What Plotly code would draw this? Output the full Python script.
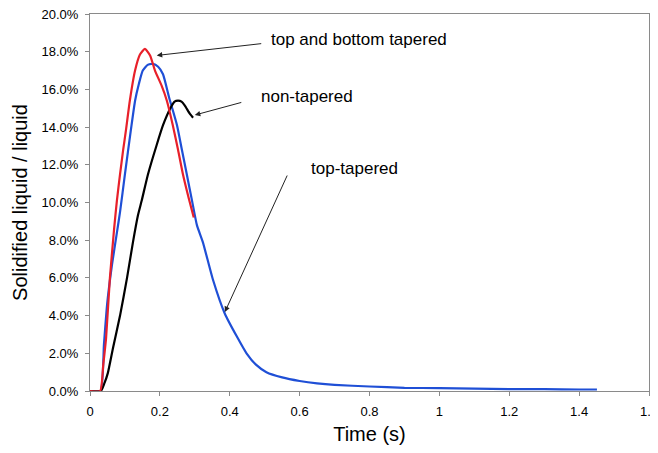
import plotly.graph_objects as go

# Data (time in s, solidified liquid / liquid in %)
red_x = [0, 0.029, 0.038, 0.046, 0.057, 0.069, 0.077, 0.086, 0.095, 0.103, 0.114, 0.129,
         0.143, 0.157, 0.172, 0.186, 0.205, 0.22, 0.237, 0.252, 0.266, 0.283, 0.297]
red_y = [0, 0, 1.4, 2.8, 6.0, 8.6, 10.1, 11.5, 12.8, 13.85, 15.4, 17.0,
         17.85, 18.15, 17.8, 17.0, 16.2, 15.4, 14.1, 12.8, 11.5, 10.2, 9.2]

blue_x = [0, 0.03, 0.04, 0.049, 0.063, 0.077, 0.086, 0.1, 0.117, 0.129, 0.14, 0.151, 0.165,
          0.18, 0.195, 0.209, 0.226, 0.249, 0.263, 0.277, 0.292, 0.306, 0.323, 0.352,
          0.386, 0.42, 0.448, 0.475, 0.505, 0.55, 0.6, 0.65, 0.7, 0.8, 0.9, 1.0, 1.1,
          1.2, 1.3, 1.4, 1.451]
blue_y = [0, 0, 2.5, 4.6, 6.7, 8.4, 9.5, 11.5, 13.85, 15.4, 16.3, 17.0, 17.3,
          17.35, 17.2, 16.8, 15.6, 14.1, 12.8, 11.5, 10.1, 8.8, 7.9, 5.9,
          4.1, 2.9, 2.0, 1.4, 1.0, 0.72, 0.53, 0.4, 0.32, 0.24, 0.17, 0.15, 0.13,
          0.1, 0.1, 0.08, 0.08]

black_x = [0, 0.031, 0.041, 0.051, 0.066, 0.086, 0.106, 0.123, 0.137, 0.148, 0.166, 0.19,
           0.209, 0.23, 0.242, 0.252, 0.262, 0.271, 0.286, 0.295]
black_y = [0, 0, 0.4, 0.95, 2.3, 4.0, 6.0, 7.9, 9.3, 10.1, 11.5, 13.0,
           14.1, 15.0, 15.35, 15.4, 15.35, 15.15, 14.7, 14.5]

x_ticks = [0, 0.2, 0.4, 0.6, 0.8, 1.0, 1.2, 1.4, 1.6]
y_ticks = [0, 2, 4, 6, 8, 10, 12, 14, 16, 18, 20]

labels = ["top and bottom tapered", "non-tapered", "top-tapered"]

FONT = "Liberation Sans, Arial, sans-serif"

fig = go.Figure()
line_common = dict(width=2.2, shape="spline", smoothing=0.5)
fig.add_trace(go.Scatter(x=blue_x, y=blue_y, mode="lines",
                         line=dict(color="#1f4fd6", **line_common), name=labels[2]))
fig.add_trace(go.Scatter(x=black_x, y=black_y, mode="lines",
                         line=dict(color="#000000", **line_common), name=labels[1]))
fig.add_trace(go.Scatter(x=red_x, y=red_y, mode="lines",
                         line=dict(color="#e8202a", **line_common), name=labels[0]))

ann_font = dict(family=FONT, size=17, color="#000")
text_pos = [(0.771, 18.65), (0.62, 15.6), (0.756, 11.8)]
for (tx, ty), lab in zip(text_pos, labels):
    fig.add_annotation(x=tx, y=ty, xref="x", yref="y", text=lab, showarrow=False,
                       font=ann_font, xanchor="center", yanchor="middle")

# arrows (head at data point, tail offset in pixels)
arrows = [(0.191, 17.8, 106, -12), (0.3, 14.64, 48, -13), (0.386, 4.19, 63, -138)]
for hx, hy, ax, ay in arrows:
    fig.add_annotation(x=hx, y=hy, xref="x", yref="y", text="", showarrow=True,
                       ax=ax, ay=ay, arrowhead=2, arrowsize=1.1, arrowwidth=1,
                       arrowcolor="#222")

# the page body adds an 8px offset, so the figure is sized to fit the window
fig.update_layout(
    width=650, height=445,
    margin=dict(l=82, r=9, t=6, b=62),
    paper_bgcolor="white", plot_bgcolor="white",
    showlegend=False,
    font=dict(family=FONT, color="#000"),
)
fig.update_xaxes(
    range=[0, 1.6], tickvals=x_ticks, ticktext=[("%g" % v) for v in x_ticks],
    automargin=False, ticklabeloverflow="allow", ticklabelstandoff=4,
    showgrid=False, zeroline=False,
    showline=True, mirror=True, linecolor="#8a8a8a", linewidth=1,
    ticks="outside", ticklen=4, tickcolor="#8a8a8a",
    tickfont=dict(family=FONT, size=13),
    title=dict(text="Time (s)", font=dict(family=FONT, size=20), standoff=9),
)
fig.update_yaxes(
    range=[0, 20], tickvals=y_ticks, ticktext=["%.1f%%" % v for v in y_ticks],
    automargin=False, ticklabeloverflow="allow", ticklabelstandoff=4,
    showgrid=False, zeroline=False,
    showline=True, mirror=True, linecolor="#8a8a8a", linewidth=1,
    ticks="outside", ticklen=4, tickcolor="#8a8a8a",
    tickfont=dict(family=FONT, size=13),
    title=dict(text="Solidified liquid / liquid", font=dict(family=FONT, size=20), standoff=8),
)

fig.write_html("out.html")
